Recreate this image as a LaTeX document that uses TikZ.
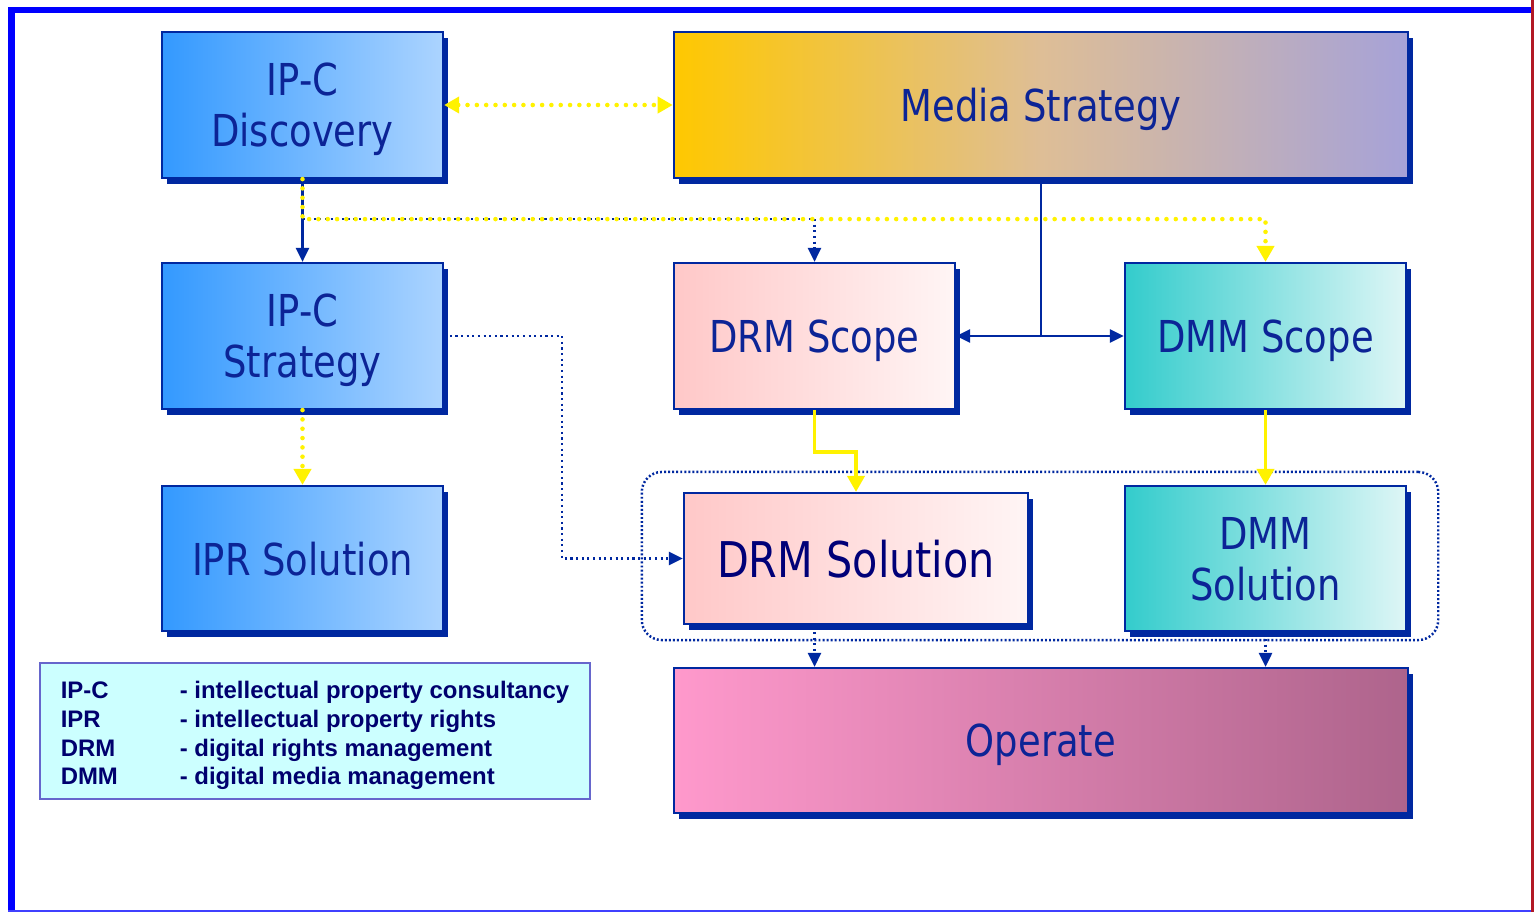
\documentclass[tikz,border=0pt]{standalone}
\usepackage{fontspec}
\usetikzlibrary{shadows, calc, positioning, arrows.meta}
\newfontfamily\boxfont[FakeStretch=0.84]{DejaVu Sans}
\newfontfamily\legfont{Liberation Sans}
\definecolor{linkblue}{RGB}{0,40,160}
\definecolor{boxtext}{RGB}{12,36,150}
\definecolor{solnavy}{RGB}{0,0,120}
\definecolor{framblue}{RGB}{0,0,255}
\definecolor{framred}{RGB}{178,24,36}
\definecolor{ipcleft}{RGB}{51,153,255}
\definecolor{ipcright}{RGB}{172,212,255}
\definecolor{medleft}{RGB}{255,200,0}
\definecolor{medmid}{RGB}{222,190,150}
\definecolor{medright}{RGB}{166,162,216}
\definecolor{drmleft}{RGB}{255,200,200}
\definecolor{drmright}{RGB}{255,245,245}
\definecolor{dmmleft}{RGB}{51,204,204}
\definecolor{dmmright}{RGB}{222,246,246}
\definecolor{opleft}{RGB}{255,153,204}
\definecolor{opright}{RGB}{174,100,140}
\definecolor{legfill}{RGB}{204,255,255}
\definecolor{legline}{RGB}{102,102,204}
\definecolor{legtext}{RGB}{0,0,110}

\tikzset{
    box/.style={draw=linkblue, line width=0.6pt, minimum width=2.81cm, minimum height=1.46cm,
        align=center, text=boxtext, text depth=0pt, font=\boxfont\fontsize{12.5}{14.5}\selectfont,
        drop shadow={shadow xshift=0.05cm, shadow yshift=-0.06cm, fill=linkblue, opacity=1}},
    ipc/.style={box, left color=ipcleft, right color=ipcright},
    drm/.style={box, left color=drmleft, right color=drmright},
    dmm/.style={box, left color=dmmleft, right color=dmmright},
    tip/.style={-{Triangle[length=0.14cm, width=0.13cm]}},
    ytip/.style={-{Triangle[length=0.16cm, width=0.17cm]}},
    bline/.style={draw=linkblue, line width=0.7pt},
    bdot/.style={draw=linkblue, line width=0.75pt, dash pattern=on 0.6pt off 1pt},
    ydot/.style={draw=yellow, line width=1.3pt, line cap=round, dash pattern=on 0pt off 2.65pt},
    yline/.style={draw=yellow, line width=1.1pt},
    grp/.style={draw=linkblue, line width=0.7pt, dash pattern=on 0.55pt off 0.6pt,
        rounded corners=0.2cm, minimum width=7.96cm, minimum height=1.68cm}
}

\begin{document}
\begin{tikzpicture}[x=0.01cm, y=-0.01cm]
        \useasboundingbox (0,0) rectangle (1534,912);
        \fill[white] (0,0) rectangle (1534,912);

        \draw[framblue, line width=0.07cm] (11.5,7) -- (11.5,912);
        \draw[framblue, line width=0.06cm] (8,10) -- (1531,10);
        \draw[framred, line width=0.03cm] (1532.5,0) -- (1532.5,912);
        \draw[framblue!75, line width=0.015cm] (8,911) -- (1531,911);

        \node[grp] (G) at (1040,556) {};

        \node[ipc] (IPCD) at (302.5,105) {IP-C\\Discovery};
        \node[box, minimum width=7.34cm, left color=medleft, right color=medright, middle color=medmid] (MS) at (1041,105) {Media Strategy};
        \node[ipc] (IPCS) at (302.5,336) {IP-C\\Strategy};
        \node[drm] (DRMS) at (814.5,336) {DRM Scope};
        \node[dmm] (DMMS) at (1265.5,336) {DMM Scope};
        \node[ipc, minimum height=1.45cm] (IPR) at (302.5,558.5) {IPR Solution};
        \node[drm, minimum width=3.44cm, minimum height=1.31cm, text=solnavy, font=\boxfont\fontsize{14}{16}\selectfont] (DRMSol) at (856,558.5) {DRM Solution};
        \node[dmm, minimum height=1.45cm] (DMMSol) at (1265.5,558.5) {DMM\\Solution};
        \node[box, minimum width=7.34cm, minimum height=1.45cm, left color=opleft, right color=opright] (OP) at (1041,740.5) {Operate};

        \node[draw=legline, line width=0.6pt, fill=legfill, text=legtext, minimum width=5.5cm, minimum height=1.36cm,
            inner ysep=0.5pt, font=\legfont\bfseries\fontsize{6.8}{8.17}\selectfont] (LEG) at (315,731)
            {\begin{tabular}{@{}p{1.19cm}@{}l@{}}
            \rule{0pt}{8.5pt}IP-C & - intellectual property consultancy\\
            IPR & - intellectual property rights\\
            DRM & - digital rights management\\
            DMM & - digital media management
            \end{tabular}};

        \draw[ydot, {Triangle[length=0.15cm, width=0.16cm]}-{Triangle[length=0.15cm, width=0.16cm]}] (IPCD.east) -- (MS.west);
        \draw[bline, tip] (IPCD.south) -- (IPCS.north);
        \draw[bdot, tip] (IPCD.south) ++(0,40) -| (DRMS.north);
        \draw[ydot, ytip] (IPCD.south) -- ++(0,40) -| (DMMS.north);
        \draw[bline] (MS.south) -- (MS.south |- DRMS.east) coordinate (MJ);
        \draw[bline, tip] (MJ) -- (DRMS.east);
        \draw[bline, tip] (MJ) -- (DMMS.west);
        \draw[bdot, tip] (IPCS.east) -- ++(118,0) |- (DRMSol.west);
        \draw[ydot, ytip] (IPCS.south) -- (IPR.north);
        \draw[yline, ytip] (DRMS.south) -- ++(0,42) -| (DRMSol.north);
        \draw[yline, ytip] (DMMS.south) -- (DMMSol.north);
        \draw[bdot, tip] ($(DRMS.south |- DRMSol.south)+(0,7)$) -- (DRMS.south |- OP.north);
        \draw[bdot, tip] ($(DMMSol.south)+(0,7)$) -- (DMMSol.south |- OP.north);
\end{tikzpicture}
\end{document}
